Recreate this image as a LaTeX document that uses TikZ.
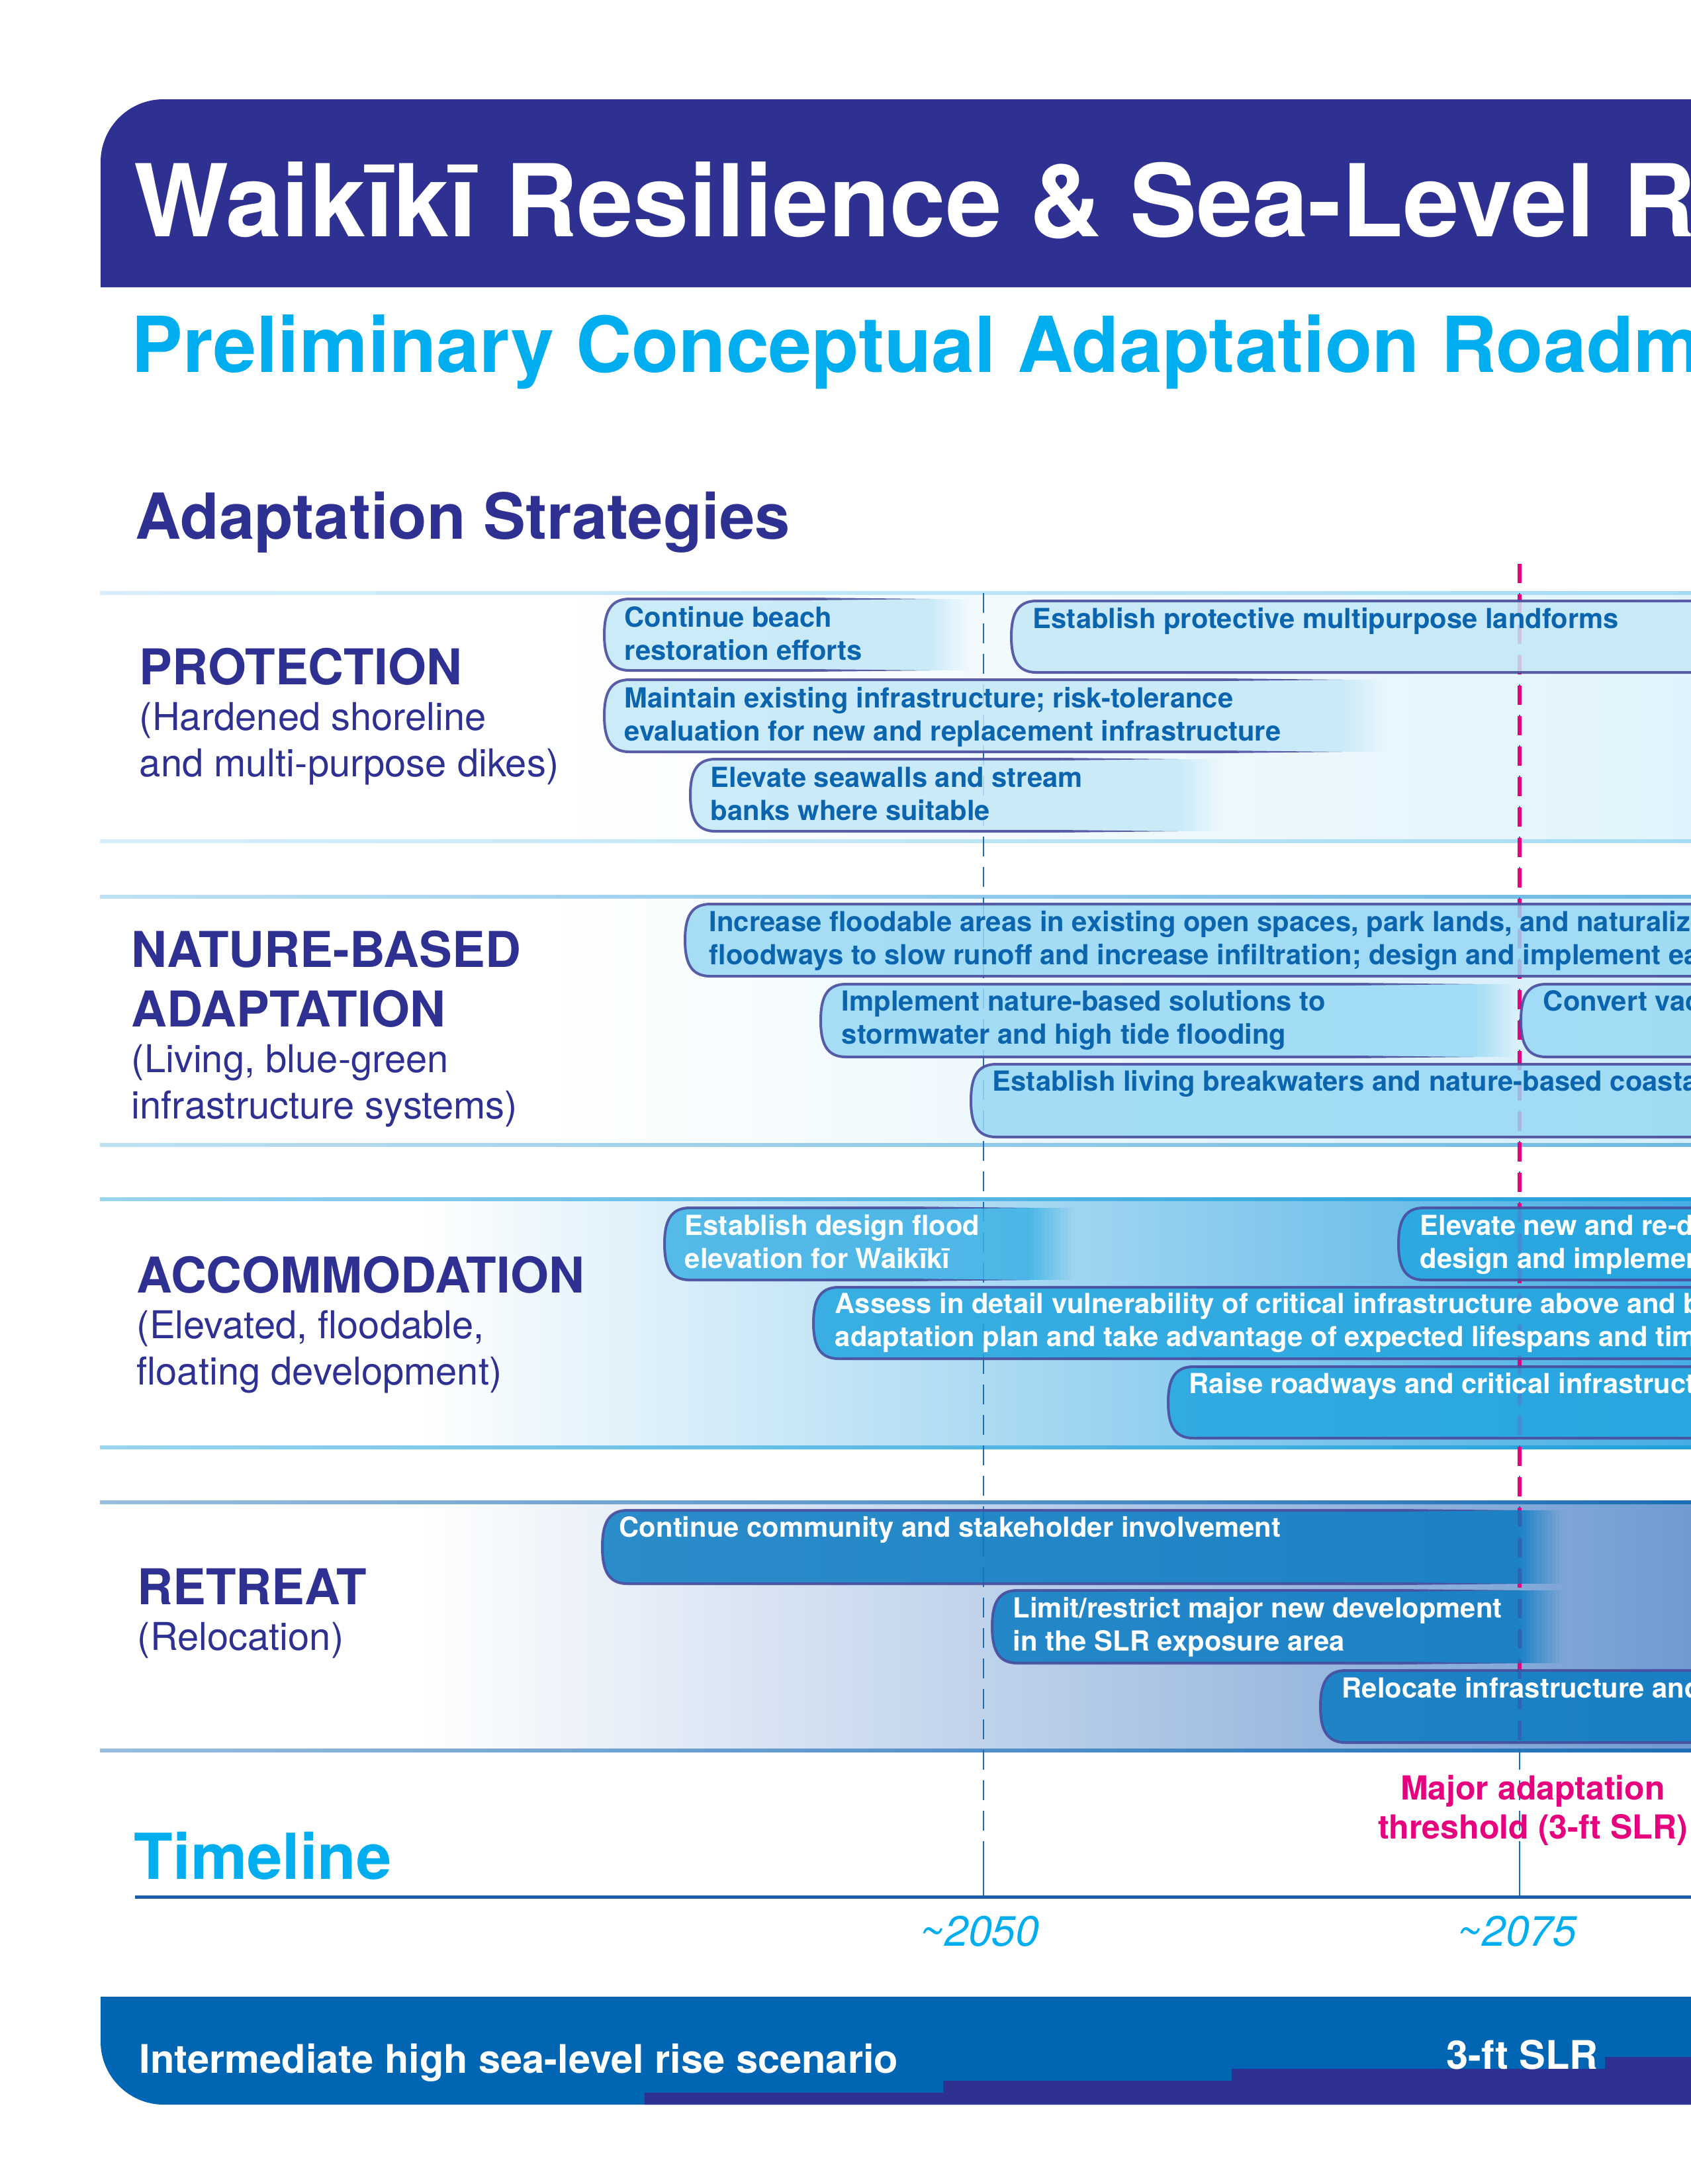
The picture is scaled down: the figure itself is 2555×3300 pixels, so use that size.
\documentclass[tikz,border=0pt]{standalone}
\usepackage{fontspec}
\setmainfont{TeX Gyre Heros}
\definecolor{navy}{HTML}{2E3192}
\definecolor{skycyan}{HTML}{00AEEF}
\definecolor{barline}{HTML}{4A4D9E}
\definecolor{bartxt}{HTML}{0A64AE}
\definecolor{magentared}{HTML}{E6007E}
\definecolor{axisblue}{HTML}{1B5DA8}
\definecolor{dashblue}{HTML}{1F6DB6}
\definecolor{footblue}{HTML}{0066B3}
\definecolor{prband}{HTML}{E0F3FC}
\definecolor{naband}{HTML}{D3EDFA}
\definecolor{acband}{HTML}{45ADE3}
\definecolor{reband}{HTML}{6F9BD2}
\definecolor{prline}{HTML}{A6DCF3}
\definecolor{naline}{HTML}{6DB9E3}
\definecolor{acline}{HTML}{1E9FDB}
\definecolor{reline}{HTML}{1C6DB6}
\definecolor{prfill}{HTML}{C4E8F8}
\definecolor{nafill}{HTML}{98D8F4}
\definecolor{acfilla}{HTML}{3DB1E5}
\definecolor{acfill}{HTML}{22A5DF}
\definecolor{refill}{HTML}{0A7BC2}

% band: top, bottom, band colour, line colour, shading start x
\newcommand\stripband[5]{%
  \shade[left color=white, right color=#3] (#5,#1) rectangle (2560,#2);
  \shade[left color=#4!45, right color=#4] (151,{#1-2.5}) rectangle (2560,{#1+2.5});
  \shade[left color=#4!45, right color=#4] (151,{#2-2.5}) rectangle (2560,{#2+2.5});
}
% bar running off the right edge: left, top, bottom, fill colour
\newcommand\fullbar[4]{%
  \fill[#4, fill opacity=0.85] (2600,#2) -- ({#1+38},#2) .. controls ({#1+8},#2) and (#1,{#2+22}) .. (#1,{(#2+#3)/2}) .. controls (#1,{#3-22}) and ({#1+8},#3) .. ({#1+38},#3) -- (2600,#3) -- cycle;
  \draw[barstroke] (2600,#2) -- ({#1+38},#2) .. controls ({#1+8},#2) and (#1,{#2+22}) .. (#1,{(#2+#3)/2}) .. controls (#1,{#3-22}) and ({#1+8},#3) .. ({#1+38},#3) -- (2600,#3);
}
% bar fading out: left, top, bottom, solid end, fade end, fill colour
\newcommand\fadebar[6]{%
  \fill[#6, fill opacity=0.85] (#4,#2) -- ({#1+38},#2) .. controls ({#1+8},#2) and (#1,{#2+22}) .. (#1,{(#2+#3)/2}) .. controls (#1,{#3-22}) and ({#1+8},#3) .. ({#1+38},#3) -- (#4,#3) -- cycle;
  \foreach \k in {0,...,11}{%
    \pgfmathsetmacro\op{0.85*(1-(\k+0.5)/12)}%
    \fill[#6, fill opacity=\op] ({#4+(#5-#4)*\k/12},#2) rectangle ({#4+(#5-#4)*(\k+1)/12},#3);
  }
  \draw[barstroke] ({#4-180},#2) -- ({#1+38},#2) .. controls ({#1+8},#2) and (#1,{#2+22}) .. (#1,{(#2+#3)/2}) .. controls (#1,{#3-22}) and ({#1+8},#3) .. ({#1+38},#3) -- ({#4-180},#3);
  \fill[barline, opacity=0.9] ({#4-180},{#2-2}) -- (#4,#2) -- ({#4-180},{#2+2}) -- cycle;
  \fill[barline, opacity=0.9] ({#4-180},{#3-2}) -- (#4,#3) -- ({#4-180},{#3+2}) -- cycle;
}

\begin{document}
\begin{tikzpicture}[x=0.24pt, y=-0.24pt,
  barstroke/.style={draw=barline, draw opacity=0.9, line width=0.96pt},
  bartext/.style={anchor=base west, inner sep=0pt, font=\bfseries\fontsize{10.02}{12}\selectfont},
  bluetext/.style={bartext, text=bartxt},
  whitetext/.style={bartext, text=white},
  catmain/.style={anchor=base west, inner sep=0pt, text=navy, font=\bfseries\fontsize{17.9}{21.8}\selectfont},
  catsub/.style={anchor=base west, inner sep=0pt, text=navy, font=\fontsize{13.9}{16.8}\selectfont},
  yearlbl/.style={anchor=base, inner sep=0pt, text=skycyan, font=\itshape\fontsize{15.4}{18}\selectfont}]
\useasboundingbox (0,0) rectangle (2555,3300);
\fill[white] (0,0) rectangle (2555,3300);

% ---------- header ----------
\fill[navy] (152,434) -- (152,245) .. controls (152,192) and (195,150) .. (247,150) -- (2600,150) -- (2600,434) -- cycle;
\node[anchor=base west, inner sep=0pt, text=white, font=\bfseries\fontsize{36.4}{40}\selectfont] (title) at (202,357) {Waikīkī Resilience \& Sea-Level Rise};
\node[anchor=base west, inner sep=0pt, text=skycyan, font=\bfseries\fontsize{28}{32}\selectfont] (subtitle) at (198,562) {Preliminary Conceptual Adaptation Roadmap};
\node[anchor=base west, inner sep=0pt, text=navy, font=\bfseries\fontsize{23}{26}\selectfont] (strategies) at (204,814) {Adaptation Strategies};

% ---------- bands ----------
\stripband{896}{1271}{prband}{prline}{800}
\stripband{1355}{1730}{naband}{naline}{800}
\stripband{1812}{2187}{acband}{acline}{630}
\stripband{2270}{2645}{reband}{reline}{630}

% ---------- timeline reference lines ----------
\coordinate (t2050) at (1486,2866);
\coordinate (t2075) at (2296,2866);
\coordinate (d2050) at (1486,896);
\coordinate (d2075) at (2296,896);
\coordinate (m2075top) at (2296,852);
\coordinate (m2075bot) at (2296,2645);
\draw[dashblue, line width=0.6pt, dash pattern=on 7.2pt off 3.84pt] (d2050) -- (1486,2795);
\draw[dashblue, line width=0.6pt, dash pattern=on 7.2pt off 3.84pt] (d2075) -- (2296,2795);
\draw[dashblue, line width=0.6pt] (1486,2795) -- (t2050);
\draw[dashblue, line width=0.6pt] (2296,2795) -- (t2075);
\draw[magentared, line width=1.44pt, dash pattern=on 6.96pt off 4.08pt] (m2075top) -- (m2075bot);

% ---------- PROTECTION ----------
\fadebar{913}{905}{1013}{1406}{1468}{prfill}
\fullbar{1528}{908}{1016}{prfill}
\fadebar{913}{1027}{1136}{2028}{2090}{prfill}
\fadebar{1043}{1147}{1256}{1780}{1845}{prfill}
\node[bluetext] (p1) at (943,947) {\begin{tabular}[t]{@{}l@{}}Continue beach\\restoration efforts\end{tabular}};
\node[bluetext] (p2) at (1560,949) {Establish protective multipurpose landforms};
\node[bluetext] (p3) at (943,1069) {\begin{tabular}[t]{@{}l@{}}Maintain existing infrastructure; risk-tolerance\\evaluation for new and replacement infrastructure\end{tabular}};
\node[bluetext] (p4) at (1073,1189) {\begin{tabular}[t]{@{}l@{}}Elevate seawalls and stream\\banks where suitable\end{tabular}};

% ---------- NATURE-BASED ----------
\fullbar{1035}{1366}{1475}{nafill}
\fadebar{1240}{1487}{1597}{2227}{2290}{nafill}
\fullbar{2298}{1487}{1597}{nafill}
\fullbar{1467}{1608}{1718}{nafill}
\node[bluetext] (n1) at (1071,1407) {\begin{tabular}[t]{@{}l@{}}Increase floodable areas in existing open spaces, park lands, and naturalize\\floodways to slow runoff and increase infiltration; design and implement early\end{tabular}};
\node[bluetext] (n2) at (1271,1527) {\begin{tabular}[t]{@{}l@{}}Implement nature-based solutions to\\stormwater and high tide flooding\end{tabular}};
\node[bluetext] (n3) at (2331,1527) {Convert vacant};
\node[bluetext] (n4) at (1499,1648) {Establish living breakwaters and nature-based coastal};

% ---------- ACCOMMODATION ----------
\fadebar{1004}{1825}{1934}{1556}{1625}{acfilla}
\fullbar{2113}{1825}{1934}{acfill}
\fullbar{1229}{1945}{2053}{acfill}
\fullbar{1765}{2065}{2173}{acfill}
\node[whitetext] (a1) at (1034,1866) {\begin{tabular}[t]{@{}l@{}}Establish design flood\\elevation for Waikīkī\end{tabular}};
\node[whitetext] (a2) at (2145,1866) {\begin{tabular}[t]{@{}l@{}}Elevate new and re-developed\\design and implement\end{tabular}};
\node[whitetext] (a3) at (1261,1984) {\begin{tabular}[t]{@{}l@{}}Assess in detail vulnerability of critical infrastructure above and below\\adaptation plan and take advantage of expected lifespans and timing\end{tabular}};
\node[whitetext] (a4) at (1796,2105) {Raise roadways and critical infrastructure};

% ---------- RETREAT ----------
\fadebar{910}{2282}{2393}{2296}{2361}{refill}
\fadebar{1499}{2403}{2513}{2296}{2361}{refill}
\fullbar{1995}{2524}{2633}{refill}
\node[whitetext] (r1) at (935,2322) {Continue community and stakeholder involvement};
\node[whitetext] (r2) at (1530,2444) {\begin{tabular}[t]{@{}l@{}}Limit/restrict major new development\\in the SLR exposure area\end{tabular}};
\node[whitetext] (r3) at (2027,2565) {Relocate infrastructure and};

% ---------- category labels ----------
\node[catmain] (protection) at (210,1034) {PROTECTION};
\node[catsub] (protectionsub) at (210,1103) {\begin{tabular}[t]{@{}l@{}}(Hardened shoreline\\and multi-purpose dikes)\end{tabular}};
\node[catmain] (nature) at (198,1461) {\begin{tabular}[t]{@{}l@{}}NATURE-BASED\\ADAPTATION\end{tabular}};
\node[catsub] (naturesub) at (198,1620) {\begin{tabular}[t]{@{}l@{}}(Living, blue-green\\infrastructure systems)\end{tabular}};
\node[catmain] (accommodation) at (206,1953) {ACCOMMODATION};
\node[catsub] (accommodationsub) at (206,2022) {\begin{tabular}[t]{@{}l@{}}(Elevated, floodable,\\floating development)\end{tabular}};
\node[catmain] (retreat) at (207,2424) {RETREAT};
\node[catsub] (retreatsub) at (207,2493) {(Relocation)};

% ---------- timeline ----------
\node[anchor=base west, inner sep=0pt, text=skycyan, font=\bfseries\fontsize{23}{26}\selectfont] (timeline) at (202,2839) {Timeline};
\coordinate (axisL) at (204,2866);
\coordinate (axisR) at (2560,2866);
\draw[axisblue, line width=1.2pt] (axisL) -- (axisR);
\node[yearlbl] (y2050) at (1480,2940) {\textasciitilde 2050};
\node[yearlbl] (y2075) at (2292,2940) {\textasciitilde 2075};
\node[anchor=base, inner sep=0pt, text=magentared, font=\bfseries\fontsize{12}{14.2}\selectfont] (threshold) at (2316,2719) {\begin{tabular}[t]{@{}c@{}}Major adaptation\\threshold (3-ft SLR)\end{tabular}};

% ---------- footer ----------
\fill[footblue] (152,3017) -- (2600,3017) -- (2600,3180) -- (247,3180) .. controls (195,3180) and (152,3137) .. (152,3085) -- cycle;
\fill[navy] (974,3180) -- (974,3162) -- (1425,3162) -- (1425,3144) -- (1861,3144) -- (1861,3126) -- (2425,3126) -- (2425,3108) -- (2600,3108) -- (2600,3180) -- cycle;
\node[anchor=base west, inner sep=0pt, text=white, font=\bfseries\fontsize{14.3}{17}\selectfont] (scenario) at (210,3132) {Intermediate high sea-level rise scenario};
\node[anchor=base, inner sep=0pt, text=white, font=\bfseries\fontsize{14.3}{17}\selectfont] (slr) at (2300,3126) {3-ft SLR};
\end{tikzpicture}
\end{document}
